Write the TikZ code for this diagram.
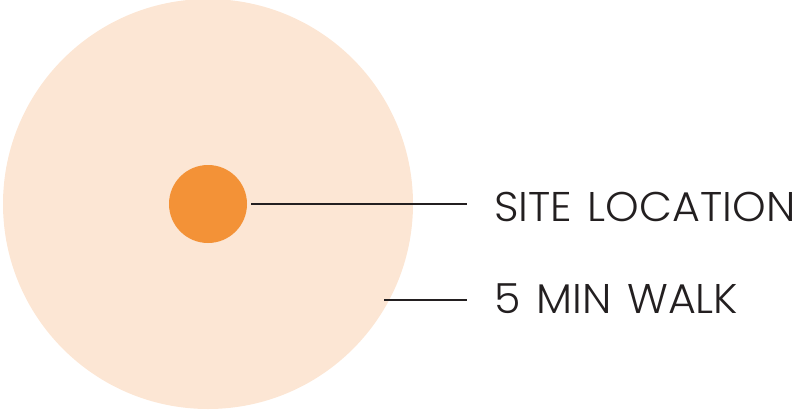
\documentclass[tikz,border=0pt]{standalone}
\usepackage{fontspec}
\setmainfont{Poppins}[UprightFont=* Light]
\newfontfamily\lblfont{Poppins}[UprightFont=* Light,FakeStretch=1.03,WordSpace=1.35]
\definecolor{walk}{HTML}{FCE6D4}
\definecolor{site}{HTML}{F39237}
\definecolor{ink}{HTML}{231F20}
\begin{document}
\begin{tikzpicture}[x=1pt,y=-1pt,
  leader/.style={draw=ink,line width=2.6pt},
  lbl/.style={anchor=base west,inner sep=0pt,text=ink,font=\lblfont\fontsize{41.5}{42}\selectfont}]
\useasboundingbox (0,0) rectangle (800,410);
\fill[walk] (208,204) circle (205);
\node[circle,fill=site,minimum size=78pt,inner sep=0pt] (site) at (208,204) {};
\coordinate (walkedge) at (384,300);
\coordinate (e1) at (467,204);
\coordinate (e2) at (467,300);
\node[lbl] (t1) at (494,221) {SITE LOCATION};
\node[lbl] (t2) at (494,313) {5 MIN WALK};
\draw[leader] ([xshift=4pt]site.east) -- (e1);
\draw[leader] (walkedge) -- (e2);
\end{tikzpicture}
\end{document}
